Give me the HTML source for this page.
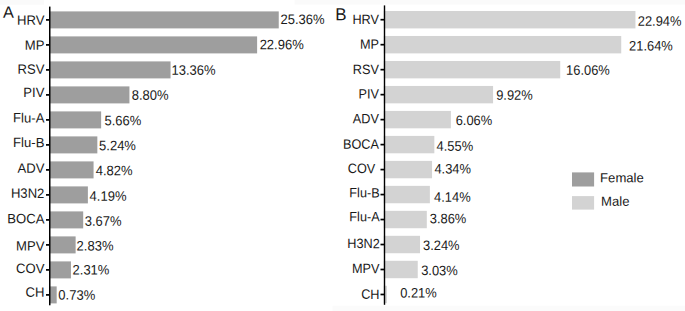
<!DOCTYPE html>
<html><head><meta charset="utf-8"><title>chart</title>
<style>
html,body{margin:0;padding:0;background:#fff;}
body{width:685px;height:311px;position:relative;overflow:hidden;font-family:"Liberation Sans",sans-serif;color:#1a1a1a;}
svg{position:absolute;left:0;top:0;}
.lab{position:absolute;width:80px;height:16px;line-height:16px;text-align:right;font-size:13.1px;white-space:pre;transform-origin:right center;}
.val{position:absolute;height:16px;line-height:16px;font-size:13.1px;white-space:pre;transform-origin:left center;}
.pl{position:absolute;font-size:16.3px;line-height:16px;height:16px;}
.lt{position:absolute;font-size:13.1px;line-height:16px;height:16px;}
</style></head><body>
<svg width="685" height="311" viewBox="0 0 685 311">
<rect x="0" y="0" width="44" height="4.8" fill="#fafafa"/>
<rect x="294.6" y="0" width="391" height="4.6" fill="#fafafa"/>
<rect x="332.5" y="305.8" width="353" height="6" fill="#fbfbfb"/>
<rect x="49.00" y="11.40" width="229.75" height="17.00" fill="#9e9e9e"/>
<rect x="46.00" y="19.05" width="3.50" height="1.7" fill="#000"/>
<rect x="49.00" y="36.40" width="208.11" height="17.00" fill="#9e9e9e"/>
<rect x="46.00" y="44.05" width="3.50" height="1.7" fill="#000"/>
<rect x="49.00" y="61.40" width="121.55" height="17.00" fill="#9e9e9e"/>
<rect x="46.00" y="69.05" width="3.50" height="1.7" fill="#000"/>
<rect x="49.00" y="86.40" width="80.44" height="17.00" fill="#9e9e9e"/>
<rect x="46.00" y="94.05" width="3.50" height="1.7" fill="#000"/>
<rect x="49.00" y="111.40" width="52.13" height="17.00" fill="#9e9e9e"/>
<rect x="46.00" y="119.05" width="3.50" height="1.7" fill="#000"/>
<rect x="49.00" y="136.40" width="48.34" height="17.00" fill="#9e9e9e"/>
<rect x="46.00" y="144.05" width="3.50" height="1.7" fill="#000"/>
<rect x="49.00" y="161.40" width="44.56" height="17.00" fill="#9e9e9e"/>
<rect x="46.00" y="169.05" width="3.50" height="1.7" fill="#000"/>
<rect x="49.00" y="186.40" width="38.88" height="17.00" fill="#9e9e9e"/>
<rect x="46.00" y="194.05" width="3.50" height="1.7" fill="#000"/>
<rect x="49.00" y="211.40" width="34.19" height="17.00" fill="#9e9e9e"/>
<rect x="46.00" y="219.05" width="3.50" height="1.7" fill="#000"/>
<rect x="49.00" y="236.40" width="26.62" height="17.00" fill="#9e9e9e"/>
<rect x="46.00" y="244.05" width="3.50" height="1.7" fill="#000"/>
<rect x="49.00" y="261.40" width="21.93" height="17.00" fill="#9e9e9e"/>
<rect x="46.00" y="269.05" width="3.50" height="1.7" fill="#000"/>
<rect x="49.00" y="286.40" width="7.68" height="17.00" fill="#9e9e9e"/>
<rect x="46.00" y="294.05" width="3.50" height="1.7" fill="#000"/>
<rect x="49.00" y="6.60" width="1.50" height="298.70" fill="#000"/>
<rect x="383.80" y="11.00" width="251.65" height="17.40" fill="#d3d3d3"/>
<rect x="380.50" y="18.85" width="3.80" height="1.7" fill="#000"/>
<rect x="383.80" y="35.98" width="237.43" height="17.40" fill="#d3d3d3"/>
<rect x="380.50" y="43.83" width="3.80" height="1.7" fill="#000"/>
<rect x="383.80" y="60.96" width="176.42" height="17.40" fill="#d3d3d3"/>
<rect x="380.50" y="68.81" width="3.80" height="1.7" fill="#000"/>
<rect x="383.80" y="85.94" width="109.28" height="17.40" fill="#d3d3d3"/>
<rect x="380.50" y="93.79" width="3.80" height="1.7" fill="#000"/>
<rect x="383.80" y="110.92" width="67.07" height="17.40" fill="#d3d3d3"/>
<rect x="380.50" y="118.77" width="3.80" height="1.7" fill="#000"/>
<rect x="383.80" y="135.90" width="50.55" height="17.40" fill="#d3d3d3"/>
<rect x="380.50" y="143.75" width="3.80" height="1.7" fill="#000"/>
<rect x="383.80" y="160.88" width="48.26" height="17.40" fill="#d3d3d3"/>
<rect x="380.50" y="168.73" width="3.80" height="1.7" fill="#000"/>
<rect x="383.80" y="185.86" width="46.07" height="17.40" fill="#d3d3d3"/>
<rect x="380.50" y="193.71" width="3.80" height="1.7" fill="#000"/>
<rect x="383.80" y="210.84" width="43.01" height="17.40" fill="#d3d3d3"/>
<rect x="380.50" y="218.69" width="3.80" height="1.7" fill="#000"/>
<rect x="383.80" y="235.82" width="36.23" height="17.40" fill="#d3d3d3"/>
<rect x="380.50" y="243.67" width="3.80" height="1.7" fill="#000"/>
<rect x="383.80" y="260.80" width="33.93" height="17.40" fill="#d3d3d3"/>
<rect x="380.50" y="268.65" width="3.80" height="1.7" fill="#000"/>
<rect x="383.80" y="285.78" width="3.10" height="17.40" fill="#d3d3d3"/>
<rect x="380.50" y="293.63" width="3.80" height="1.7" fill="#000"/>
<rect x="383.80" y="5.40" width="1.40" height="299.40" fill="#000"/>
<rect x="572" y="172.4" width="22.1" height="14.1" fill="#9e9e9e"/>
<rect x="572" y="196.1" width="22.1" height="13.5" fill="#d3d3d3"/>
</svg>
<div class="lab" style="left:-36px;top:12px;transform:matrix(1.0,0.0005,0,1.03,0.40,0.62)">HRV</div>
<div class="val" style="left:280px;top:11px;transform:matrix(0.993,0.0005,0,1.05,0.44,0.83)">25.36%</div>
<div class="lab" style="left:-36px;top:37px;transform:matrix(1.0,0.0005,0,1.03,0.40,0.62)">MP</div>
<div class="val" style="left:259px;top:37px;transform:matrix(0.993,0.0005,0,1.05,0.64,0.12)">22.96%</div>
<div class="lab" style="left:-36px;top:61px;transform:matrix(1.0,0.0005,0,1.03,0.40,0.52)">RSV</div>
<div class="val" style="left:171px;top:62px;transform:matrix(0.993,0.0005,0,1.05,0.49,0.52)">13.36%</div>
<div class="lab" style="left:-36px;top:84px;transform:matrix(1.0,0.0005,0,1.03,0.40,0.92)">PIV</div>
<div class="val" style="left:131px;top:87px;transform:matrix(0.993,0.0005,0,1.05,0.70,0.43)">8.80%</div>
<div class="lab" style="left:-36px;top:110px;transform:matrix(1.0,0.0005,0,1.03,0.40,0.27)">Flu-A</div>
<div class="val" style="left:104px;top:113px;transform:matrix(0.993,0.0005,0,1.05,0.44,0.03)">5.66%</div>
<div class="lab" style="left:-36px;top:135px;transform:matrix(1.0,0.0005,0,1.03,0.40,0.01)">Flu-B</div>
<div class="val" style="left:99px;top:138px;transform:matrix(0.993,0.0005,0,1.05,0.06,0.03)">5.24%</div>
<div class="lab" style="left:-36px;top:160px;transform:matrix(1.0,0.0005,0,1.03,0.40,0.61)">ADV</div>
<div class="val" style="left:95px;top:163px;transform:matrix(0.993,0.0005,0,1.05,0.78,0.03)">4.82%</div>
<div class="lab" style="left:-36px;top:185px;transform:matrix(1.0,0.0005,0,1.03,0.40,0.76)">H3N2</div>
<div class="val" style="left:89px;top:188px;transform:matrix(0.993,0.0005,0,1.05,0.61,0.53)">4.19%</div>
<div class="lab" style="left:-36px;top:211px;transform:matrix(1.0,0.0005,0,1.03,0.40,0.26)">BOCA</div>
<div class="val" style="left:84px;top:213px;transform:matrix(0.993,0.0005,0,1.05,0.78,0.53)">3.67%</div>
<div class="lab" style="left:-36px;top:238px;transform:matrix(1.0,0.0005,0,1.03,0.40,0.51)">MPV</div>
<div class="val" style="left:76px;top:238px;transform:matrix(0.993,0.0005,0,1.05,0.57,0.22)">2.83%</div>
<div class="lab" style="left:-36px;top:261px;transform:matrix(1.0,0.0005,0,1.03,0.40,0.01)">COV</div>
<div class="val" style="left:72px;top:262px;transform:matrix(0.993,0.0005,0,1.05,0.54,0.27)">2.31%</div>
<div class="lab" style="left:-36px;top:284px;transform:matrix(1.0,0.0005,0,1.03,0.40,0.62)">CH</div>
<div class="val" style="left:58px;top:287px;transform:matrix(0.993,0.0005,0,1.05,0.32,0.42)">0.73%</div>
<div class="lab" style="left:299px;top:11px;transform:matrix(0.97,0.0005,0,1.03,0.00,0.77)">HRV</div>
<div class="val" style="left:637px;top:13px;transform:matrix(0.985,0.0005,0,1.05,0.75,0.63)">22.94%</div>
<div class="lab" style="left:299px;top:36px;transform:matrix(0.97,0.0005,0,1.03,0.00,0.62)">MP</div>
<div class="val" style="left:629px;top:38px;transform:matrix(0.985,0.0005,0,1.05,0.08,0.27)">21.64%</div>
<div class="lab" style="left:299px;top:61px;transform:matrix(0.97,0.0005,0,1.03,0.00,0.77)">RSV</div>
<div class="val" style="left:566px;top:62px;transform:matrix(0.985,0.0005,0,1.05,0.05,0.52)">16.06%</div>
<div class="lab" style="left:299px;top:86px;transform:matrix(0.97,0.0005,0,1.03,0.00,0.42)">PIV</div>
<div class="val" style="left:496px;top:87px;transform:matrix(0.985,0.0005,0,1.05,0.13,0.43)">9.92%</div>
<div class="lab" style="left:299px;top:111px;transform:matrix(0.97,0.0005,0,1.03,0.00,0.02)">ADV</div>
<div class="val" style="left:455px;top:112px;transform:matrix(0.985,0.0005,0,1.05,0.65,0.83)">6.06%</div>
<div class="lab" style="left:299px;top:136px;transform:matrix(0.97,0.0005,0,1.03,0.00,0.71)">BOCA</div>
<div class="val" style="left:436px;top:138px;transform:matrix(0.985,0.0005,0,1.05,0.59,0.53)">4.55%</div>
<div class="lab" style="left:295px;top:161px;transform:matrix(0.97,0.0005,0,1.03,0.30,0.01)">COV</div>
<div class="val" style="left:434px;top:161px;transform:matrix(0.985,0.0005,0,1.05,0.41,0.28)">4.34%</div>
<div class="lab" style="left:299px;top:185px;transform:matrix(0.97,0.0005,0,1.03,0.70,0.26)">Flu-B</div>
<div class="val" style="left:434px;top:189px;transform:matrix(0.985,0.0005,0,1.05,0.03,0.62)">4.14%</div>
<div class="lab" style="left:299px;top:209px;transform:matrix(0.97,0.0005,0,1.03,0.70,0.11)">Flu-A</div>
<div class="val" style="left:429px;top:211px;transform:matrix(0.985,0.0005,0,1.05,0.77,0.12)">3.86%</div>
<div class="lab" style="left:299px;top:236px;transform:matrix(0.97,0.0005,0,1.03,0.80,0.01)">H3N2</div>
<div class="val" style="left:423px;top:237px;transform:matrix(0.985,0.0005,0,1.05,0.02,0.78)">3.24%</div>
<div class="lab" style="left:299px;top:261px;transform:matrix(0.97,0.0005,0,1.03,0.40,0.01)">MPV</div>
<div class="val" style="left:421px;top:262px;transform:matrix(0.985,0.0005,0,1.05,0.13,0.92)">3.03%</div>
<div class="lab" style="left:299px;top:286px;transform:matrix(0.97,0.0005,0,1.03,0.50,0.76)">CH</div>
<div class="val" style="left:400px;top:285px;transform:matrix(0.985,0.0005,0,1.05,0.19,0.27)">0.21%</div>
<div class="pl" style="left:2px;top:4px;transform:matrix(1,0.0005,0,1,0.9,-0.2)">A</div>
<div class="pl" style="left:335px;top:6px;transform-origin:left bottom;transform:matrix(1.04,0.0005,0,1.07,0.2,0.4)">B</div>
<div class="lt" style="left:600px;top:170px;transform:matrix(1,0.0005,0,1,0.1,0.15)">Female</div>
<div class="lt" style="left:601px;top:194px;transform:matrix(1,0.0005,0,1,0.1,-0.2)">Male</div>
</body></html>
